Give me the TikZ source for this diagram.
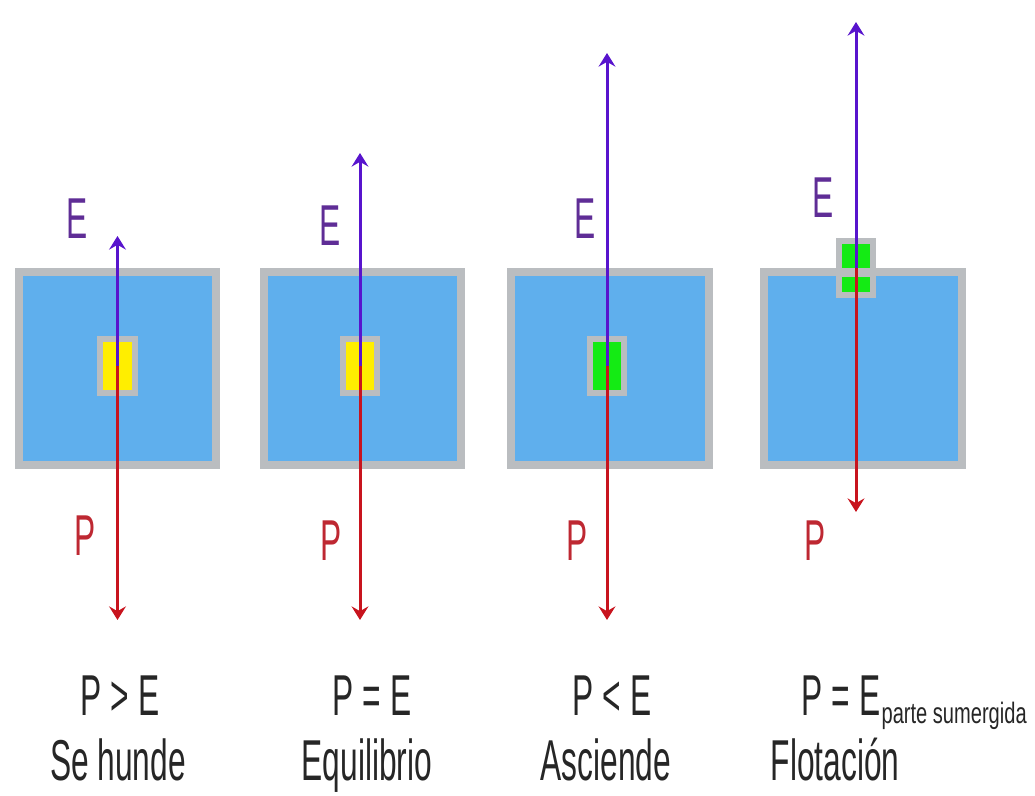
\documentclass[tikz,border=0pt]{standalone}
\usepackage{fontspec}
\setmainfont{Liberation Sans}
\newfontfamily\rotfont[FakeStretch=0.55]{Liberation Sans}
\newfontfamily\subfont[FakeStretch=0.68]{Liberation Sans}
\usetikzlibrary{arrows.meta,positioning}
\definecolor{agua}{RGB}{95,175,237}
\definecolor{borde}{RGB}{186,189,192}
\definecolor{amarillo}{RGB}{255,238,0}
\definecolor{verde}{RGB}{20,235,20}
\definecolor{empuje}{RGB}{88,20,205}
\definecolor{peso}{RGB}{200,20,30}
\definecolor{letraE}{RGB}{95,45,150}
\definecolor{letraP}{RGB}{190,40,50}
\tikzset{
  tanque/.style={draw=borde,fill=agua,line width=0.2cm},
  cuerpo/.style={draw=borde,line width=0.15cm,minimum width=0.85cm,minimum height=1.35cm,inner sep=0pt,outer sep=0pt},
  fuerza/.style={line width=0.075cm,-{Stealth[length=0.34cm,width=0.42cm,inset=0.12cm]}},
  etiq/.style={font=\rotfont\fontsize{41}{46}\selectfont,inner sep=0pt,anchor=base},
  leyenda/.style={etiq,text=black!85}
}

\begin{document}
\begin{tikzpicture}[x=0.025cm,y=-0.025cm]
        \useasboundingbox (0,0) rectangle (1035,796);
        \draw[tanque] (19,272) rectangle (216,465);
        \draw[tanque] (264,272) rectangle (461,465);
        \draw[tanque] (511,272) rectangle (709,465);
        \draw[tanque] (764,272) rectangle (962,465);
        \node[cuerpo,fill=amarillo] (b1) at (117.5,366) {};
        \node[cuerpo,fill=amarillo] (b2) at (360,366) {};
        \node[cuerpo,fill=verde] (b3) at (607,366) {};
        \node[cuerpo,fill=verde] (b4) at (856,268) {};
        \fill[borde] (842,268) rectangle (871,277);
        \coordinate (e1) at (117.5,236);
        \coordinate (p1) at (117.5,620);
        \coordinate (e2) at (360,153);
        \coordinate (p2) at (360,620);
        \coordinate (e3) at (607,53);
        \coordinate (p3) at (607,620);
        \coordinate (e4) at (856,22);
        \coordinate (p4) at (856,512);
        \draw[fuerza,peso] (b1.center) -- (p1);
        \draw[fuerza,empuje] (b1.center) -- (e1);
        \draw[fuerza,peso] (b2.center) -- (p2);
        \draw[fuerza,empuje] (b2.center) -- (e2);
        \draw[fuerza,peso] (b3.center) -- (p3);
        \draw[fuerza,empuje] (b3.center) -- (e3);
        \draw[fuerza,peso] (b4.center) -- (p4);
        \draw[fuerza,empuje] (b4.center) -- (e4);
        \node[etiq,text=letraE] (E1) at (77,238) {E};
        \node[etiq,text=letraE] (E2) at (330,245) {E};
        \node[etiq,text=letraE] (E3) at (585,238) {E};
        \node[etiq,text=letraE] (E4) at (823,217) {E};
        \node[etiq,text=letraP] (P1) at (85,555) {P};
        \node[etiq,text=letraP] (P2) at (331,560) {P};
        \node[etiq,text=letraP] (P3) at (577,560) {P};
        \node[etiq,text=letraP] (P4) at (815,560) {P};
        \node[leyenda] (r1) at (120,715) {P > E};
        \node[leyenda] (n1) at (118,780) {Se hunde};
        \node[leyenda] (r2) at (372,715) {P = E};
        \node[leyenda] (n2) at (367,780) {Equilibrio};
        \node[leyenda] (r3) at (612,715) {P < E};
        \node[leyenda] (n3) at (606,780) {Asciende};
        \node[leyenda] (r4) at (841,715) {P = E\rlap{\hspace{1pt}\raisebox{-0.2cm}{\subfont\fontsize{21}{23}\selectfont parte sumergida}}};
        \node[leyenda] (n4) at (835,780) {Flotación};
      \end{tikzpicture}
\end{document}
